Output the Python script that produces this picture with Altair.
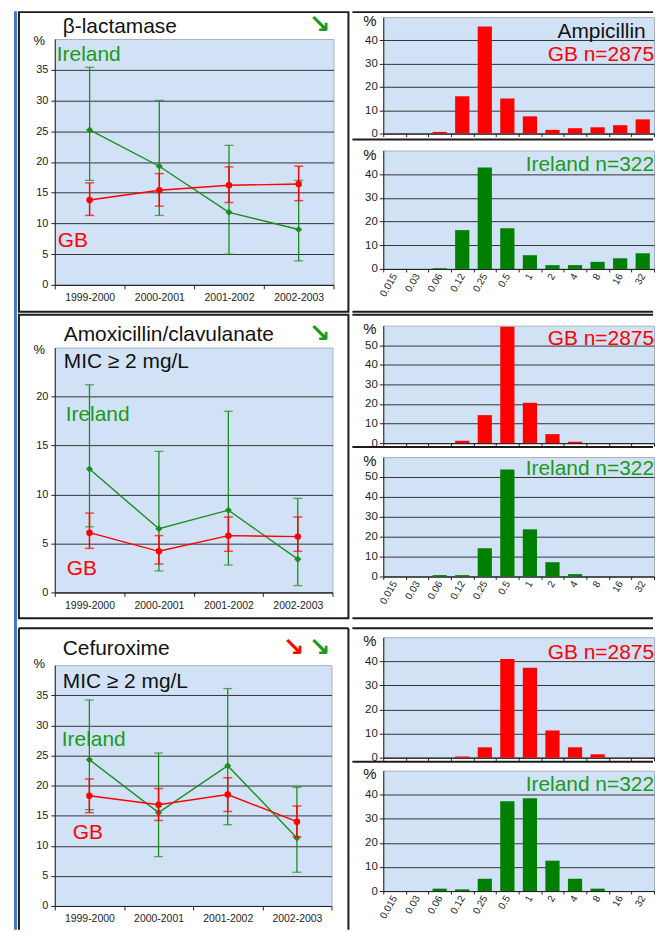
import altair as alt
import pandas as pd

# ---------------- data ----------------
YEARS = ["1999-2000", "2000-2001", "2001-2002", "2002-2003"]
MIC = ["0.015", "0.03", "0.06", "0.12", "0.25", "0.5", "1", "2", "4", "8", "16", "32"]

# beta-lactamase (% of isolates), mean / lower CI / upper CI
BL_IE_MEAN = [25.2, 19.3, 11.8, 9.0]
BL_IE_LO = [17.0, 11.3, 5.0, 3.9]
BL_IE_HI = [35.4, 30.0, 22.7, 17.0]
BL_GB_MEAN = [13.8, 15.4, 16.2, 16.4]
BL_GB_LO = [11.3, 12.8, 13.4, 13.7]
BL_GB_HI = [16.6, 18.1, 19.2, 19.3]

# Amoxicillin/clavulanate MIC >= 2 mg/L
AC_IE_MEAN = [12.6, 6.5, 8.4, 3.4]
AC_IE_LO = [6.7, 2.2, 2.8, 0.7]
AC_IE_HI = [21.2, 14.4, 18.5, 9.6]
AC_GB_MEAN = [6.1, 4.2, 5.8, 5.7]
AC_GB_LO = [4.5, 2.9, 4.2, 4.2]
AC_GB_HI = [8.1, 5.8, 7.7, 7.7]

# Cefuroxime MIC >= 2 mg/L
CF_IE_MEAN = [24.3, 15.5, 23.3, 11.3]
CF_IE_LO = [16.0, 8.2, 13.5, 5.6]
CF_IE_HI = [34.2, 25.4, 36.1, 19.7]
CF_GB_MEAN = [18.3, 16.8, 18.5, 14.0]
CF_GB_LO = [15.5, 14.2, 15.7, 11.5]
CF_GB_HI = [21.1, 19.5, 21.3, 16.6]

# MIC distributions (% of isolates)
AMP_GB = [0, 0, 0.7, 16.0, 46.0, 15.1, 7.4, 1.6, 2.3, 2.7, 3.6, 6.1]
AMP_IE = [0, 0, 0.3, 16.4, 42.8, 17.2, 5.8, 1.6, 1.6, 3.0, 4.5, 6.6]
AMC_GB = [0, 0, 0, 1.2, 14.3, 59.4, 20.6, 4.6, 0.7, 0, 0, 0]
AMC_IE = [0, 0, 0.7, 0.7, 14.2, 53.8, 23.7, 7.2, 1.2, 0, 0, 0]
CXM_GB = [0, 0, 0, 0.5, 4.3, 41.0, 37.3, 11.3, 4.3, 1.4, 0, 0]
CXM_IE = [0, 0, 1.0, 0.7, 5.1, 37.3, 38.5, 12.6, 5.1, 1.0, 0, 0]

# ---------------- styling ----------------
FONT = "Liberation Sans"
ARROW_FONT = "DejaVu Sans"
BLACK = "#111111"
RED = "#ff0000"
GREEN_TEXT = "#1a9a1a"
GREEN_LINE = "#1d8c1d"
GREEN_BAR = "#008000"
PLOT_BG = "#d2e2f6"
PLOT_EDGE = "#a7b1bb"
FRAME = "#1c1c1c"
INK = "#222222"
BLUE_EDGE = "#4677c6"

ONE = pd.DataFrame({"k": [0]})


def hrule(px, py, x1, x2, y, color=FRAME, width=2):
    return alt.Chart(ONE).mark_rule(color=color, strokeWidth=width).encode(
        x=alt.value(x1 - px), x2=alt.value(x2 - px), y=alt.value(y - py))


def vrule(px, py, x, y1, y2, color=FRAME, width=2):
    return alt.Chart(ONE).mark_rule(color=color, strokeWidth=width).encode(
        x=alt.value(x - px), y=alt.value(y1 - py), y2=alt.value(y2 - py))


def box(px, py, x1, y1, x2, y2):
    return alt.Chart(ONE).mark_rect(fill="transparent", stroke=FRAME, strokeWidth=2).encode(
        x=alt.value(x1 - px), x2=alt.value(x2 - px),
        y=alt.value(y1 - py), y2=alt.value(y2 - py))


def band(px, py, x1, y1, x2, y2, color):
    return alt.Chart(ONE).mark_rect(fill=color).encode(
        x=alt.value(x1 - px), x2=alt.value(x2 - px),
        y=alt.value(y1 - py), y2=alt.value(y2 - py))


def label(px, py, x, y, s, color=BLACK, size=21, align="left",
          baseline="alphabetic", font=FONT, weight="normal"):
    return alt.Chart(pd.DataFrame({"s": [s]})).mark_text(
        align=align, baseline=baseline, font=font, fontSize=size,
        fontWeight=weight, color=color
    ).encode(x=alt.value(x - px), y=alt.value(y - py), text="s:N")


def arrow(px, py, x, y, color):
    return label(px, py, x, y, "↘", color=color, size=26, align="center",
                 baseline="middle", font=ARROW_FONT, weight="bold")


def view_bg():
    return alt.ViewBackground(fill=PLOT_BG, stroke=PLOT_EDGE, strokeWidth=1)


def trend(px, py, w, h, ymax, ie, gb, pct_dy, decor):
    yvals = list(range(0, ymax, 5))
    x = alt.X("year:N", sort=YEARS,
              scale=alt.Scale(type="band", domain=YEARS, paddingInner=0, paddingOuter=0),
              axis=alt.Axis(title=None, labelAngle=0, tickBand="extent", labelFont=FONT,
                            labelFontSize=10.5, labelColor=INK, tickColor=INK, tickSize=4,
                            domainColor=INK, labelPadding=4, grid=False))
    yscale = alt.Scale(domain=[0, ymax], nice=False)
    yaxis = alt.Axis(values=yvals, title="%", titleAngle=0, titleX=-16, titleY=pct_dy,
                     titleAlign="center", titleBaseline="middle", titleFont=FONT,
                     titleFontSize=13, titleFontWeight="normal", titleColor=BLACK,
                     labelFont=FONT, labelFontSize=11, labelColor=INK, tickColor=INK,
                     tickSize=4, labelPadding=3, domainColor=INK, grid=True,
                     gridColor="#333333", gridWidth=1)

    def series(vals, color, shape, size, ew):
        mean, lo, hi = vals
        df = pd.DataFrame({"year": YEARS, "mean": mean, "lo": lo, "hi": hi})
        b = alt.Chart(df)
        return [
            b.mark_rule(color=color, strokeWidth=ew).encode(
                x=x, y=alt.Y("lo:Q", scale=yscale, axis=yaxis), y2="hi:Q"),
            b.mark_tick(color=color, size=9, thickness=ew).encode(
                x=x, y=alt.Y("lo:Q", scale=yscale, axis=yaxis)),
            b.mark_tick(color=color, size=9, thickness=ew).encode(
                x=x, y=alt.Y("hi:Q", scale=yscale, axis=yaxis)),
            b.mark_line(color=color, strokeWidth=1.4).encode(
                x=x, y=alt.Y("mean:Q", scale=yscale, axis=yaxis)),
            b.mark_point(color=color, filled=True, opacity=1, shape=shape, size=size).encode(
                x=x, y=alt.Y("mean:Q", scale=yscale, axis=yaxis)),
        ]

    layers = (series(ie, GREEN_LINE, "diamond", 50, 1.3)
              + series(gb, RED, "circle", 42, 1.5))
    return alt.layer(*layers, *decor).properties(width=w, height=h, view=view_bg())


def hist(px, py, w, h, ymax, pct, color, show_labels, pct_dy, decor):
    yvals = list(range(0, ymax, 10))
    df = pd.DataFrame({"mic": MIC, "pct": pct})
    x = alt.X("mic:N", sort=MIC,
              scale=alt.Scale(type="band", domain=MIC, paddingInner=0, paddingOuter=0),
              axis=alt.Axis(title=None, tickBand="extent", labels=show_labels, labelAngle=-60,
                            labelAlign="right", labelBaseline="middle", labelFont=FONT,
                            labelFontSize=10, labelColor=INK, labelPadding=2,
                            labelOverlap=False, tickColor=INK, tickSize=3,
                            domainColor=INK, grid=False))
    y = alt.Y("pct:Q", scale=alt.Scale(domain=[0, ymax], nice=False),
              axis=alt.Axis(values=yvals, title="%", titleAngle=0, titleX=-14, titleY=pct_dy,
                            titleAlign="center", titleBaseline="middle", titleFont=FONT,
                            titleFontSize=15, titleFontWeight="normal", titleColor=BLACK,
                            labelFont=FONT, labelFontSize=11.5, labelColor=INK,
                            tickColor=INK, tickSize=4, labelPadding=2, domainColor=INK,
                            grid=True, gridColor="#333333", gridWidth=1))
    bars = alt.Chart(df).mark_bar(color=color, width=alt.RelativeBandSize(0.63)).encode(x=x, y=y)
    return alt.layer(bars, *decor).properties(width=w, height=h, view=view_bg())


def spacer(h):
    return alt.Chart(ONE).mark_point(opacity=0, size=0).encode(
        x=alt.X("k:Q", axis=None), y=alt.Y("k:Q", axis=None)
    ).properties(width=1, height=h,
                 view=alt.ViewBackground(fill="transparent", stroke="transparent"))


# ---------------- left column: trend panels ----------------
LX = 54
L1 = trend(LX, 36, 280, 247, 40,
           (BL_IE_MEAN, BL_IE_LO, BL_IE_HI), (BL_GB_MEAN, BL_GB_LO, BL_GB_HI), 2,
           [band(LX, 36, 13, 8, 16, 931, BLUE_EDGE),
            box(LX, 36, 18, 9, 349, 310),
            label(LX, 36, 62, 30, "β-lactamase"),
            arrow(LX, 36, 320, 22, GREEN_TEXT),
            label(LX, 36, 56, 58, "Ireland", color=GREEN_TEXT),
            label(LX, 36, 57, 245, "GB", color=RED)])

L2 = trend(LX, 346, 279, 246, 25,
           (AC_IE_MEAN, AC_IE_LO, AC_IE_HI), (AC_GB_MEAN, AC_GB_LO, AC_GB_HI), 2,
           [box(LX, 346, 18, 313, 349, 618),
            label(LX, 346, 63, 339, "Amoxicillin/clavulanate"),
            arrow(LX, 346, 320, 332, GREEN_TEXT),
            label(LX, 346, 63, 367, "MIC ≥ 2 mg/L"),
            label(LX, 346, 65, 420, "Ireland", color=GREEN_TEXT),
            label(LX, 346, 66, 574, "GB", color=RED)])

L3 = trend(LX, 665, 278, 242, 40,
           (CF_IE_MEAN, CF_IE_LO, CF_IE_HI), (CF_GB_MEAN, CF_GB_LO, CF_GB_HI), -2,
           [hrule(LX, 665, 18, 349, 628),
            vrule(LX, 665, 18, 628, 931),
            vrule(LX, 665, 349, 628, 931),
            label(LX, 665, 62, 655, "Cefuroxime"),
            arrow(LX, 665, 294, 648, RED),
            arrow(LX, 665, 320, 648, GREEN_TEXT),
            label(LX, 665, 62, 688, "MIC ≥ 2 mg/L"),
            label(LX, 665, 61, 746, "Ireland", color=GREEN_TEXT),
            label(LX, 665, 72, 840, "GB", color=RED)])

# ---------------- right column: MIC distributions ----------------
# (kept inside the 647px page width so the SVG is not shrunk by the page)
HX, HW = 382, 272
XL, XR = 351, 653
TR = 654
H1a = hist(HX, 14, HW, 117, 50, AMP_GB, RED, False, 3,
           [hrule(HX, 14, XL, XR, 9), hrule(HX, 14, XL, XR, 137),
            label(HX, 14, 557, 35, "Ampicillin"),
            label(HX, 14, TR, 58, "GB n=2875", color=RED, align="right")])
H1b = hist(HX, 148, HW, 119, 50, AMP_IE, GREEN_BAR, True, 4,
           [hrule(HX, 148, XL, XR, 310),
            label(HX, 148, TR, 169, "Ireland n=322", color=GREEN_TEXT, align="right")])
H2a = hist(HX, 324, HW, 118, 60, AMC_GB, RED, False, 3,
           [hrule(HX, 324, XL, XR, 313), hrule(HX, 324, XL, XR, 446),
            label(HX, 324, TR, 343, "GB n=2875", color=RED, align="right")])
H2b = hist(HX, 456, HW, 120, 60, AMC_IE, GREEN_BAR, True, 3,
           [hrule(HX, 456, XL, XR, 618),
            label(HX, 456, TR, 474, "Ireland n=322", color=GREEN_TEXT, align="right")])
H3a = hist(HX, 637, HW, 121, 50, CXM_GB, RED, False, 3,
           [hrule(HX, 637, XL, XR, 628), hrule(HX, 637, XL, XR, 762),
            label(HX, 637, TR, 659, "GB n=2875", color=RED, align="right")])
H3b = hist(HX, 771, HW, 121, 50, CXM_IE, GREEN_BAR, True, 3,
           [label(HX, 771, TR, 791, "Ireland n=322", color=GREEN_TEXT, align="right")])

# flat columns (flush: cells stacked by their plot heights, spacers give the gaps)
left = alt.vconcat(spacer(22), L1, spacer(63), L2, spacer(73), L3,
                   spacing=0, bounds="flush")
right = alt.vconcat(H1a, spacer(17), H1b, spacer(57), H2a, spacer(14), H2b,
                    spacer(61), H3a, spacer(13), H3b, spacing=0, bounds="flush")

# the columns meet where the panel frames meet
chart = alt.hconcat(left, right, spacing=0, bounds="full").properties(
    padding={"left": 5, "top": 0, "right": 0, "bottom": 0}
).configure(font=FONT)

chart.save("out.html", embed_options={"renderer": "svg", "actions": False})
